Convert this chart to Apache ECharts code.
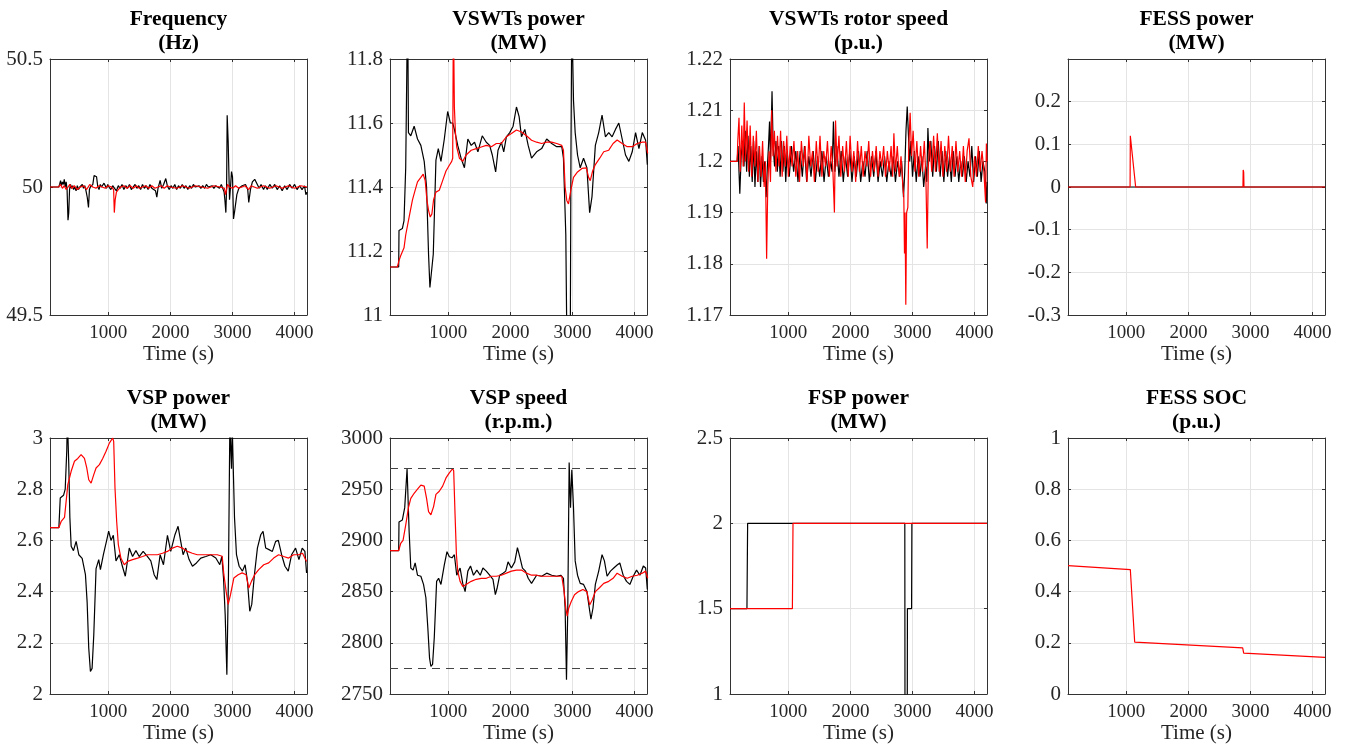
<!DOCTYPE html>
<html>
<head>
<meta charset="utf-8">
<script src="https://cdn.jsdelivr.net/npm/echarts@6/dist/echarts.min.js"></script>
<style>
  html, body { margin: 0; padding: 0; background: #fff; }
  #chart { width: 1346px; height: 752px; }
</style>
</head>
<body>
<div id="chart"></div>
<script>
// ---- data: [time (s), value] ----
var freqBlack = [[60,50],[200,50],[215,50.01],[230,50.025],[245,50.005],[260,50.02],[275,50.01],[290,50.03],[305,50],[320,50.02],[335,49.99],[350,49.87],[362,49.9],[375,49.99],[390,50.01],[405,49.995],[420,50.005],[440,49.99],[460,50],[480,49.985],[500,50.005],[520,49.99],[540,50],[560,49.995],[580,50.01],[600,49.995],[620,50.005],[640,49.985],[660,49.96],[680,49.92],[695,49.99],[710,50],[730,49.995],[750,50.01],[770,50.045],[790,50.05],[810,50.04],[830,50],[850,49.99],[870,50.01],[890,50],[910,49.995],[930,50.015],[950,50.005],[970,49.995],[990,50.01],[1010,50],[1040,49.99],[1070,50.005],[1100,49.995],[1130,49.985],[1160,50.005],[1190,49.995],[1220,50.01],[1250,49.99],[1280,50.005],[1310,49.995],[1340,50.01],[1370,49.99],[1400,50],[1430,50.01],[1460,49.995],[1490,50.005],[1520,49.99],[1550,50.01],[1580,49.995],[1610,50.005],[1640,49.99],[1670,50.01],[1700,49.995],[1730,50],[1760,49.985],[1781,49.96],[1800,49.995],[1834,50.026],[1860,49.995],[1890,50.01],[1925,50.033],[1950,50.005],[1980,49.99],[2010,50.005],[2040,49.995],[2070,50.01],[2100,49.99],[2130,50.005],[2160,49.995],[2190,50.01],[2220,49.995],[2250,50.005],[2280,49.99],[2310,50.005],[2340,49.995],[2370,50.01],[2400,50],[2430,49.995],[2460,50.005],[2490,49.995],[2520,50.005],[2550,49.995],[2580,50.01],[2610,50],[2640,49.995],[2670,50.005],[2700,49.995],[2730,50.005],[2760,50],[2790,49.995],[2820,50.01],[2845,50.01],[2865,49.98],[2877,49.95],[2893,49.9],[2905,50],[2914,50.28],[2930,50.18],[2952,49.95],[2968,50],[2984,50.06],[3000,50.04],[3016,49.875],[3037,49.91],[3070,49.97],[3102,49.995],[3155,50.005],[3209,50.01],[3245,49.99],[3262,49.94],[3289,49.99],[3320,50.02],[3358,50.03],[3400,50.01],[3430,49.995],[3460,50.01],[3500,49.99],[3530,50.005],[3560,49.99],[3600,50.01],[3640,49.995],[3680,50.01],[3720,49.99],[3760,50.005],[3800,49.985],[3840,50.005],[3880,49.99],[3920,50.01],[3960,49.995],[4000,50.01],[4040,49.99],[4080,50.005],[4120,49.99],[4160,50.005],[4182,49.97],[4200,49.98]];
var freqRed = [[60,50],[200,50],[230,50.01],[260,49.995],[290,50.005],[320,49.99],[350,50],[380,50.01],[410,49.995],[450,50.005],[500,49.99],[550,50],[600,50.005],[650,49.99],[700,50.01],[750,50],[800,49.995],[850,50.005],[900,50],[950,49.995],[1000,50.005],[1050,50],[1085,49.99],[1096,49.9],[1110,49.95],[1130,49.98],[1160,49.99],[1200,50],[1250,50.005],[1300,49.995],[1350,50.005],[1400,49.995],[1450,50.005],[1500,49.995],[1550,50],[1600,50.005],[1650,49.995],[1700,50.005],[1750,49.995],[1800,50],[1850,50.005],[1900,49.995],[1950,50.005],[2000,50],[2100,49.995],[2200,50.005],[2300,49.995],[2400,50.005],[2500,50],[2600,49.995],[2700,50.005],[2800,50],[2870,49.995],[2888,49.97],[2900,49.985],[2920,50.01],[2950,50],[3000,49.995],[3050,50.005],[3100,49.995],[3200,50.005],[3262,49.99],[3300,50.005],[3400,49.995],[3500,50.005],[3600,49.995],[3700,50.005],[3800,49.995],[3900,50.005],[4000,49.995],[4100,50.005],[4200,50]];

var vswtBlack = [[60,11.15],[200,11.15],[205,11.264],[259,11.27],[286,11.295],[313,11.46],[330,11.75],[341,11.95],[350,11.8],[357,11.57],[395,11.56],[449,11.59],[503,11.55],[557,11.53],[611,11.48],[649,11.4],[681,11.19],[703,11.086],[724,11.086],[757,11.19],[800,11.484],[838,11.52],[881,11.48],[935,11.55],[989,11.636],[1032,11.6],[1070,11.6],[1097,11.58],[1151,11.53],[1205,11.49],[1259,11.46],[1314,11.55],[1368,11.53],[1422,11.54],[1476,11.51],[1546,11.56],[1611,11.54],[1665,11.53],[1708,11.5],[1762,11.447],[1800,11.515],[1854,11.54],[1892,11.51],[1935,11.557],[1989,11.57],[2043,11.59],[2097,11.65],[2140,11.62],[2178,11.557],[2232,11.58],[2286,11.53],[2340,11.49],[2422,11.51],[2503,11.52],[2584,11.55],[2665,11.536],[2746,11.526],[2827,11.526],[2854,11.49],[2892,11.25],[2910,10.9],[2919,10.8],[2962,10.8],[2975,11.5],[2989,11.95],[3016,11.67],[3043,11.57],[3081,11.5],[3124,11.46],[3178,11.49],[3232,11.46],[3276,11.32],[3314,11.37],[3368,11.53],[3422,11.57],[3476,11.625],[3530,11.557],[3584,11.57],[3638,11.557],[3692,11.58],[3746,11.6],[3800,11.55],[3854,11.5],[3908,11.48],[3962,11.51],[4016,11.57],[4070,11.52],[4124,11.57],[4178,11.546],[4205,11.47]];
var vswtRed = [[60,11.15],[178,11.15],[205,11.17],[232,11.185],[259,11.19],[286,11.21],[313,11.25],[368,11.306],[422,11.36],[465,11.39],[503,11.416],[557,11.43],[595,11.44],[627,11.42],[654,11.36],[681,11.327],[708,11.306],[735,11.316],[762,11.36],[800,11.384],[854,11.39],[908,11.42],[962,11.45],[1016,11.468],[1054,11.48],[1070,11.49],[1081,11.95],[1097,11.65],[1114,11.57],[1135,11.525],[1178,11.49],[1232,11.48],[1286,11.5],[1368,11.515],[1449,11.52],[1530,11.525],[1611,11.53],[1692,11.526],[1773,11.536],[1854,11.536],[1935,11.557],[2016,11.567],[2097,11.578],[2178,11.572],[2259,11.56],[2340,11.546],[2422,11.54],[2503,11.536],[2584,11.54],[2665,11.54],[2746,11.536],[2827,11.53],[2854,11.515],[2881,11.4],[2908,11.358],[2935,11.347],[2973,11.39],[3016,11.43],[3081,11.447],[3151,11.458],[3222,11.46],[3259,11.43],[3286,11.42],[3324,11.45],[3368,11.47],[3438,11.49],[3503,11.51],[3584,11.515],[3654,11.536],[3719,11.547],[3800,11.536],[3881,11.526],[3962,11.526],[4043,11.536],[4124,11.54],[4178,11.54],[4211,11.505]];

var rotorBlack = [[60,1.2],[175,1.2],[190,1.203],[218,1.1937],[240,1.201],[262,1.204],[285,1.199],[305,1.206],[328,1.198],[350,1.205],[372,1.197],[395,1.203],[418,1.196],[440,1.204],[462,1.195],[485,1.202],[508,1.196],[530,1.203],[552,1.195],[575,1.201],[598,1.196],[620,1.2],[642,1.193],[662,1.199],[680,1.203],[697,1.2078],[712,1.2],[737,1.2137],[755,1.203],[778,1.199],[800,1.204],[822,1.198],[845,1.203],[868,1.197],[890,1.204],[912,1.198],[935,1.203],[958,1.196],[980,1.202],[1015,1.197],[1050,1.203],[1085,1.198],[1120,1.202],[1155,1.196],[1190,1.202],[1225,1.197],[1260,1.203],[1295,1.196],[1330,1.201],[1365,1.197],[1400,1.202],[1435,1.196],[1470,1.201],[1505,1.197],[1540,1.202],[1575,1.196],[1610,1.201],[1645,1.197],[1680,1.2],[1705,1.198],[1726,1.2078],[1750,1.198],[1780,1.203],[1815,1.197],[1850,1.202],[1885,1.196],[1920,1.201],[1955,1.197],[1990,1.202],[2025,1.196],[2060,1.201],[2095,1.197],[2130,1.202],[2165,1.196],[2200,1.2],[2235,1.197],[2270,1.202],[2305,1.196],[2340,1.201],[2375,1.197],[2410,1.202],[2445,1.196],[2480,1.2],[2515,1.197],[2550,1.201],[2585,1.196],[2620,1.2],[2655,1.197],[2690,1.201],[2725,1.196],[2760,1.2],[2795,1.197],[2825,1.2],[2855,1.193],[2875,1.198],[2895,1.206],[2915,1.2107],[2935,1.205],[2955,1.2],[2975,1.204],[3000,1.197],[3030,1.202],[3060,1.196],[3090,1.201],[3120,1.197],[3150,1.201],[3180,1.195],[3210,1.199],[3230,1.196],[3248,1.2065],[3270,1.2],[3295,1.204],[3325,1.197],[3355,1.203],[3385,1.198],[3415,1.204],[3445,1.197],[3475,1.202],[3505,1.196],[3535,1.202],[3565,1.197],[3595,1.201],[3625,1.196],[3655,1.202],[3685,1.197],[3715,1.201],[3745,1.196],[3775,1.2],[3805,1.197],[3835,1.201],[3865,1.196],[3895,1.2],[3925,1.197],[3955,1.203],[3985,1.196],[4015,1.201],[4045,1.197],[4075,1.202],[4105,1.196],[4135,1.2],[4165,1.198],[4188,1.1918],[4200,1.196]];
var rotorRed = [[60,1.2],[175,1.2],[185,1.204],[205,1.2085],[225,1.198],[250,1.207],[272,1.199],[290,1.2115],[310,1.2],[335,1.208],[360,1.198],[385,1.207],[410,1.197],[435,1.205],[460,1.199],[485,1.206],[510,1.196],[535,1.203],[560,1.197],[585,1.204],[610,1.195],[630,1.2],[650,1.181],[668,1.195],[690,1.202],[712,1.196],[731,1.21],[752,1.201],[775,1.206],[800,1.198],[825,1.205],[850,1.199],[875,1.206],[900,1.197],[925,1.204],[950,1.199],[975,1.205],[1000,1.197],[1030,1.203],[1060,1.199],[1090,1.204],[1120,1.197],[1150,1.202],[1180,1.196],[1210,1.204],[1240,1.199],[1270,1.203],[1300,1.196],[1330,1.205],[1360,1.199],[1390,1.202],[1420,1.196],[1450,1.204],[1480,1.198],[1510,1.205],[1540,1.197],[1570,1.202],[1600,1.199],[1630,1.204],[1660,1.197],[1690,1.203],[1715,1.199],[1742,1.19],[1760,1.208],[1785,1.199],[1815,1.205],[1845,1.197],[1875,1.203],[1905,1.198],[1935,1.204],[1965,1.197],[1995,1.205],[2025,1.198],[2055,1.202],[2085,1.196],[2115,1.204],[2145,1.198],[2175,1.203],[2205,1.197],[2235,1.202],[2265,1.199],[2295,1.204],[2325,1.197],[2355,1.202],[2385,1.198],[2415,1.203],[2445,1.197],[2475,1.202],[2505,1.199],[2535,1.203],[2565,1.197],[2595,1.202],[2625,1.198],[2655,1.203],[2680,1.197],[2700,1.2055],[2725,1.198],[2755,1.203],[2785,1.197],[2815,1.201],[2840,1.196],[2860,1.193],[2871,1.182],[2880,1.19],[2892,1.172],[2905,1.19],[2925,1.191],[2940,1.203],[2962,1.2095],[2985,1.201],[3010,1.206],[3040,1.198],[3070,1.204],[3100,1.197],[3130,1.203],[3160,1.198],[3190,1.204],[3215,1.197],[3237,1.183],[3255,1.199],[3280,1.204],[3310,1.198],[3340,1.205],[3370,1.198],[3400,1.2055],[3430,1.198],[3460,1.204],[3490,1.197],[3520,1.203],[3550,1.198],[3580,1.205],[3610,1.198],[3640,1.203],[3670,1.197],[3700,1.204],[3730,1.198],[3760,1.202],[3790,1.197],[3820,1.203],[3850,1.196],[3880,1.202],[3910,1.2045],[3940,1.197],[3970,1.195],[4000,1.201],[4030,1.197],[4060,1.203],[4090,1.198],[4120,1.202],[4150,1.198],[4177,1.192],[4190,1.2035],[4200,1.2]];

var fessPowBlack = [[60,0],[4200,0]];
var fessPowRed = [[60,0],[680,0],[685,0.004],[690,0],[1060,0],[1064,0.12],[1080,0.122],[1096,0.116],[1150,0],[2878,0],[2882,0.04],[2890,0.035],[2895,0],[4200,0]];

var vspPowBlack = [[60,2.65],[203,2.65],[225,2.766],[278,2.776],[305,2.8],[330,2.95],[340,3.08],[352,3.08],[362,2.9],[380,2.69],[401,2.577],[438,2.56],[481,2.596],[524,2.544],[578,2.53],[631,2.466],[658,2.36],[684,2.18],[711,2.088],[738,2.1],[765,2.23],[802,2.49],[845,2.525],[872,2.486],[920,2.544],[973,2.6],[1005,2.636],[1043,2.6],[1080,2.62],[1123,2.52],[1176,2.544],[1219,2.505],[1273,2.46],[1337,2.57],[1390,2.537],[1444,2.56],[1497,2.537],[1561,2.557],[1631,2.537],[1684,2.52],[1738,2.466],[1781,2.447],[1834,2.544],[1888,2.505],[1952,2.62],[2005,2.557],[2070,2.62],[2123,2.655],[2166,2.596],[2204,2.544],[2247,2.57],[2301,2.525],[2355,2.499],[2419,2.512],[2489,2.531],[2570,2.537],[2650,2.544],[2731,2.531],[2795,2.505],[2828,2.538],[2855,2.453],[2882,2.31],[2909,2.075],[2935,2.466],[2957,3.05],[2970,3.05],[2984,2.88],[2995,3.05],[3005,3.05],[3032,2.69],[3064,2.544],[3107,2.499],[3160,2.48],[3203,2.505],[3241,2.44],[3278,2.323],[3310,2.35],[3353,2.466],[3401,2.57],[3455,2.622],[3492,2.635],[3535,2.57],[3588,2.564],[3642,2.557],[3695,2.596],[3738,2.6],[3791,2.544],[3845,2.499],[3898,2.48],[3952,2.544],[4016,2.57],[4070,2.525],[4123,2.57],[4166,2.557],[4193,2.473],[4200,2.48]];
var vspPowRed = [[60,2.65],[203,2.65],[240,2.674],[294,2.69],[347,2.818],[401,2.87],[454,2.909],[508,2.92],[561,2.935],[615,2.92],[652,2.883],[684,2.837],[722,2.824],[765,2.857],[802,2.883],[856,2.896],[909,2.92],[963,2.948],[1016,2.98],[1070,3.0],[1086,2.987],[1107,2.805],[1134,2.674],[1161,2.583],[1203,2.53],[1257,2.505],[1310,2.518],[1390,2.525],[1471,2.531],[1551,2.537],[1631,2.544],[1711,2.544],[1791,2.544],[1872,2.55],[1952,2.557],[2032,2.57],[2112,2.577],[2193,2.57],[2273,2.557],[2353,2.55],[2433,2.544],[2513,2.544],[2594,2.544],[2674,2.544],[2754,2.544],[2834,2.538],[2861,2.466],[2898,2.4],[2930,2.35],[2968,2.388],[3021,2.453],[3091,2.466],[3155,2.473],[3219,2.466],[3262,2.414],[3305,2.44],[3358,2.466],[3422,2.486],[3503,2.505],[3583,2.512],[3663,2.531],[3743,2.544],[3824,2.537],[3904,2.531],[3984,2.544],[4064,2.544],[4128,2.55],[4193,2.518],[4200,2.52]];

var vspSpdBlack = [[60,2890],[200,2890],[205,2918],[259,2920],[297,2932],[335,2970],[368,2909],[395,2873],[432,2871],[465,2878],[503,2866],[557,2865],[600,2857],[638,2844],[670,2814],[697,2785],[719,2777],[746,2779],[773,2805],[811,2860],[843,2863],[881,2857],[935,2876],[978,2889],[1016,2884],[1059,2883],[1097,2886],[1135,2866],[1189,2873],[1232,2858],[1270,2850],[1314,2870],[1357,2875],[1405,2866],[1459,2871],[1514,2866],[1557,2873],[1611,2870],[1665,2866],[1719,2862],[1757,2847],[1784,2853],[1827,2866],[1881,2868],[1924,2870],[1962,2879],[2016,2873],[2070,2879],[2113,2893],[2151,2884],[2194,2873],[2243,2870],[2286,2863],[2340,2858],[2422,2866],[2503,2865],[2584,2868],[2665,2866],[2746,2865],[2811,2866],[2854,2863],[2881,2834],[2903,2764],[2924,2834],[2946,2976],[2968,2932],[2989,2969],[3016,2932],[3043,2880],[3081,2866],[3124,2858],[3178,2857],[3232,2850],[3270,2834],[3297,2823],[3330,2834],[3368,2857],[3422,2870],[3476,2886],[3514,2880],[3557,2865],[3611,2870],[3665,2873],[3719,2876],[3762,2878],[3816,2866],[3870,2860],[3924,2857],[3978,2865],[4032,2871],[4086,2866],[4141,2875],[4178,2873],[4205,2852]];
var vspSpdRed = [[60,2890],[200,2890],[232,2897],[270,2900],[313,2915],[357,2932],[395,2941],[449,2946],[503,2950],[557,2954],[611,2953],[649,2941],[681,2928],[719,2925],[762,2933],[800,2945],[854,2948],[908,2953],[962,2961],[1016,2966],[1070,2970],[1086,2968],[1108,2925],[1130,2886],[1151,2870],[1189,2860],[1232,2855],[1286,2857],[1368,2860],[1449,2862],[1530,2863],[1611,2863],[1692,2865],[1773,2865],[1854,2866],[1935,2868],[2016,2870],[2097,2871],[2178,2871],[2259,2868],[2340,2866],[2422,2866],[2503,2865],[2584,2865],[2665,2865],[2746,2865],[2827,2865],[2865,2850],[2892,2834],[2914,2826],[2940,2834],[2978,2840],[3032,2847],[3097,2850],[3167,2852],[3232,2850],[3276,2837],[3319,2842],[3368,2850],[3438,2854],[3503,2858],[3584,2860],[3654,2863],[3719,2868],[3800,2865],[3881,2863],[3962,2865],[4043,2866],[4124,2868],[4178,2870],[4211,2863]];
var vspSpdLimits = [2970, 2775];

var fspBlack = [[60,1.5],[333,1.5],[344,2],[2876,2],[2880,0.5],[2914,0.5],[2918,1.5],[2985,1.5],[2990,2],[4200,2]];
var fspRed = [[60,1.5],[1065,1.5],[1075,2],[4200,2]];

var socRed = [[60,0.5013],[1064,0.486],[1134,0.203],[2874,0.18],[2890,0.16],[4200,0.143]];

// ---- panel definitions ----
var panels = [
  { title: 'Frequency', unit: '(Hz)', yMin: 49.5, yMax: 50.5, yStep: 0.5, black: freqBlack, red: freqRed },
  { title: 'VSWTs power', unit: '(MW)', yMin: 11, yMax: 11.8, yStep: 0.2, black: vswtBlack, red: vswtRed },
  { title: 'VSWTs rotor speed', unit: '(p.u.)', yMin: 1.17, yMax: 1.22, yStep: 0.01, black: rotorBlack, red: rotorRed },
  { title: 'FESS power', unit: '(MW)', yMin: -0.3, yMax: 0.3, yStep: 0.1, black: fessPowBlack, red: fessPowRed, hideTop: true },
  { title: 'VSP power', unit: '(MW)', yMin: 2, yMax: 3, yStep: 0.2, black: vspPowBlack, red: vspPowRed },
  { title: 'VSP speed', unit: '(r.p.m.)', yMin: 2750, yMax: 3000, yStep: 50, black: vspSpdBlack, red: vspSpdRed, limits: vspSpdLimits },
  { title: 'FSP power', unit: '(MW)', yMin: 1, yMax: 2.5, yStep: 0.5, black: fspBlack, red: fspRed },
  { title: 'FESS SOC', unit: '(p.u.)', yMin: 0, yMax: 1, yStep: 0.2, black: null, red: socRed }
];

var colLeft = [50, 390, 730, 1068];
var rowTop = [59, 438];
var plotW = 257, plotH = 256;
var tMin = 60, tMax = 4200;

var font = 'Liberation Serif, Times New Roman, serif';
var axisColor = '#333333';
var gridColor = '#e4e4e4';

var grids = [], xAxes = [], yAxes = [], titles = [], series = [];

function fmt(v) {
  return String(Math.round(v * 10000) / 10000);
}

panels.forEach(function (p, i) {
  var col = i % 4, row = Math.floor(i / 4);
  grids.push({ left: colLeft[col], top: rowTop[row], width: plotW, height: plotH, containLabel: false });

  titles.push({
    text: p.title + '\n' + p.unit,
    left: colLeft[col] + plotW / 2,
    top: rowTop[row] - 51,
    padding: 0,
    textAlign: 'center',
    textStyle: { fontFamily: font, fontWeight: 'bold', fontSize: 21.5, lineHeight: 23.5, color: '#000' }
  });

  var tick = { show: true, inside: true, length: 3, lineStyle: { color: axisColor } };
  var line = { show: true, onZero: false, lineStyle: { color: axisColor, width: 1 } };

  xAxes.push({
    type: 'value', gridIndex: i, position: 'bottom', min: tMin, max: tMax, splitNumber: 4,
    name: 'Time (s)', nameLocation: 'middle', nameGap: 26,
    nameTextStyle: { fontFamily: font, fontSize: 21, color: '#262626' },
    axisLine: line, axisTick: tick,
    axisLabel: { showMinLabel: false, showMaxLabel: false, margin: 9, fontFamily: font, fontSize: 19, color: '#262626', formatter: fmt },
    splitLine: { show: true, lineStyle: { color: gridColor, width: 1 } }
  });
  xAxes.push({
    type: 'value', gridIndex: i, position: 'top', min: tMin, max: tMax, splitNumber: 4,
    axisLine: line, axisTick: tick, axisLabel: { show: false }, splitLine: { show: false }
  });
  yAxes.push({
    type: 'value', gridIndex: i, position: 'left', min: p.yMin, max: p.yMax, interval: p.yStep,
    axisLine: line, axisTick: tick,
    axisLabel: { margin: 7, showMaxLabel: !p.hideTop, fontFamily: font, fontSize: 21, color: '#262626', formatter: fmt },
    splitLine: { show: true, lineStyle: { color: gridColor, width: 1 } }
  });
  yAxes.push({
    type: 'value', gridIndex: i, position: 'right', min: p.yMin, max: p.yMax, interval: p.yStep,
    axisLine: line, axisTick: tick, axisLabel: { show: false }, splitLine: { show: false }
  });

  if (p.black) {
    var blackSeries = {
      type: 'line', xAxisIndex: 2 * i, yAxisIndex: 2 * i, data: p.black,
      showSymbol: false, clip: true, z: 2,
      lineStyle: { color: '#000000', width: 1.2 }
    };
    if (p.limits) {
      blackSeries.markLine = {
        silent: true, symbol: ['none', 'none'], label: { show: false },
        lineStyle: { color: '#444444', width: 1.2, type: [8, 6] },
        data: p.limits.map(function (v) { return { yAxis: v }; })
      };
    }
    series.push(blackSeries);
  }
  series.push({
    type: 'line', xAxisIndex: 2 * i, yAxisIndex: 2 * i, data: p.red,
    showSymbol: false, clip: true, z: 3,
    lineStyle: { color: '#ff0000', width: 1.2 }
  });
});

var chart = echarts.init(document.getElementById('chart'));
chart.setOption({
  animation: false,
  backgroundColor: '#ffffff',
  title: titles,
  grid: grids,
  xAxis: xAxes,
  yAxis: yAxes,
  series: series
});
</script>
</body>
</html>
